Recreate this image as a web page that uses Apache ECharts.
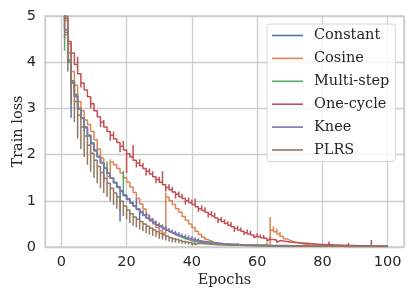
<!DOCTYPE html>
<html>
<head>
<meta charset="utf-8">
<script src="https://cdn.jsdelivr.net/npm/echarts@6/dist/echarts.min.js"></script>
<style>html,body{margin:0;padding:0;background:#fff}#c{width:415px;height:297px}</style>
</head>
<body>
<div id="c"></div>
<script>
// Epochs 1..100 (one step per epoch); each epoch has a level value and a spike extreme
const seriesNames = ['Constant', 'Cosine', 'Multi-step', 'One-cycle', 'Knee', 'PLRS'];
const xTicks = [0, 20, 40, 60, 80, 100];
const yTicks = [0, 1, 2, 3, 4, 5];

const constantLevel = [
  4.7, 4.05, 3.6, 3.3, 3.0, 2.8, 2.6, 2.42, 2.25, 2.1,
  1.96, 1.83, 1.71, 1.6, 1.49, 1.39, 1.29, 1.2, 1.11, 1.03,
  0.95, 0.88, 0.81, 0.74, 0.68, 0.62, 0.57, 0.52, 0.47, 0.43,
  0.39, 0.35, 0.32, 0.29, 0.26, 0.23, 0.21, 0.19, 0.17, 0.15,
  0.14, 0.12, 0.11, 0.1, 0.09, 0.085, 0.08, 0.075, 0.07, 0.065,
  0.06, 0.058, 0.055, 0.052, 0.05, 0.048, 0.046, 0.044, 0.042, 0.04,
  0.038, 0.036, 0.035, 0.034, 0.033, 0.032, 0.031, 0.03, 0.029, 0.028,
  0.027, 0.027, 0.026, 0.026, 0.025, 0.025, 0.024, 0.024, 0.023, 0.023,
  0.022, 0.022, 0.022, 0.021, 0.021, 0.021, 0.02, 0.02, 0.02, 0.02,
  0.019, 0.019, 0.019, 0.019, 0.018, 0.018, 0.018, 0.018, 0.018, 0.017
];
const constantSpike = [
  5.0, 4.3, 2.8, 3.45, 3.15, 2.95, 2.5, 2.55, 2.38, 2.2,
  2.06, 1.93, 1.4, 1.7, 1.58, 1.48, 1.38, 0.55, 1.2, 1.1,
  1.02, 0.95, 1.06, 0.6, 0.75, 0.69, 0.64, 0.58, 0.53, 0.49,
  0.45, 0.41, 0.37, 0.34, 0.31, 0.28, 0.26, 0.24, 0.22, 0.2,
  0.19, 0.16, 0.15, 0.14, 0.13, 0.12, 0.11, 0.1, 0.1, 0.09,
  0.1, 0.08, 0.1, 0.07, 0.09, 0.07, 0.06, 0.08, 0.06, 0.05,
  0.05, 0.05, 0.06, 0.045, 0.04, 0.04, 0.05, 0.04, 0.035, 0.035,
  0.035, 0.03, 0.03, 0.04, 0.03, 0.03, 0.03, 0.028, 0.03, 0.027,
  0.026, 0.026, 0.03, 0.025, 0.025, 0.025, 0.024, 0.024, 0.028, 0.023,
  0.023, 0.022, 0.022, 0.022, 0.022, 0.021, 0.021, 0.021, 0.021, 0.02
];

const cosineLevel = [
  4.9, 4.4, 3.8, 3.5, 3.15, 2.95, 2.75, 2.65, 2.5, 2.32,
  2.12, 1.92, 1.72, 1.52, 1.84, 1.78, 1.7, 1.6, 1.5, 1.4,
  1.3, 1.18, 1.05, 0.93, 0.82, 0.7, 0.6, 0.5, 0.42, 0.35,
  0.3, 1.08, 1.0, 0.92, 0.83, 0.75, 0.66, 0.58, 0.5, 0.42,
  0.34, 0.27, 0.21, 0.16, 0.12, 0.1, 0.08, 0.07, 0.06, 0.055,
  0.05, 0.048, 0.046, 0.044, 0.042, 0.04, 0.038, 0.036, 0.034, 0.032,
  0.03, 0.03, 0.03, 0.36, 0.33, 0.28, 0.23, 0.18, 0.15, 0.12,
  0.1, 0.085, 0.07, 0.06, 0.05, 0.045, 0.04, 0.035, 0.032, 0.03,
  0.028, 0.027, 0.026, 0.025, 0.024, 0.023, 0.022, 0.021, 0.02, 0.02,
  0.019, 0.019, 0.018, 0.018, 0.017, 0.017, 0.016, 0.016, 0.016, 0.015
];
const cosineSpike = [
  5.1, 4.6, 4.0, 3.6, 3.3, 3.05, 2.9, 2.78, 2.62, 2.45,
  2.25, 2.05, 1.85, 1.65, 1.9, 1.88, 1.8, 1.7, 1.6, 1.52,
  1.42, 1.3, 1.18, 1.06, 0.95, 0.83, 0.72, 0.62, 0.53, 0.45,
  0.38, 1.18, 1.1, 1.02, 0.93, 0.85, 0.76, 0.68, 0.6, 0.52,
  0.44, 0.36, 0.29, 0.23, 0.18, 0.14, 0.12, 0.1, 0.09, 0.08,
  0.07, 0.065, 0.06, 0.058, 0.055, 0.05, 0.05, 0.048, 0.045, 0.04,
  0.04, 0.04, 0.04, 0.65, 0.45, 0.4, 0.33, 0.27, 0.22, 0.18,
  0.14, 0.12, 0.1, 0.085, 0.07, 0.06, 0.055, 0.05, 0.045, 0.04,
  0.038, 0.036, 0.034, 0.032, 0.03, 0.03, 0.028, 0.027, 0.026, 0.025,
  0.025, 0.024, 0.023, 0.023, 0.022, 0.022, 0.021, 0.021, 0.02, 0.02
];

const multiStepLevel = [
  4.6, 4.0, 3.58, 3.28, 3.0, 2.8, 2.6, 2.42, 2.25, 2.1,
  1.96, 1.83, 1.71, 1.6, 1.5, 1.4, 1.31, 1.22, 1.13, 1.05,
  0.97, 0.9, 0.83, 0.76, 0.7, 0.64, 0.58, 0.53, 0.48, 0.44,
  0.39, 0.35, 0.31, 0.27, 0.24, 0.21, 0.18, 0.16, 0.14, 0.12,
  0.11, 0.1, 0.09, 0.08, 0.07, 0.065, 0.06, 0.055, 0.05, 0.045,
  0.04, 0.039, 0.038, 0.037, 0.036, 0.035, 0.034, 0.033, 0.032, 0.031,
  0.03, 0.029, 0.028, 0.027, 0.026, 0.025, 0.025, 0.024, 0.024, 0.023,
  0.023, 0.022, 0.022, 0.021, 0.021, 0.02, 0.02, 0.02, 0.019, 0.019,
  0.019, 0.018, 0.018, 0.018, 0.017, 0.017, 0.017, 0.016, 0.016, 0.016,
  0.016, 0.015, 0.015, 0.015, 0.015, 0.014, 0.014, 0.014, 0.014, 0.014
];
const multiStepSpike = [
  4.25, 4.15, 3.7, 3.4, 3.1, 2.9, 2.7, 2.52, 2.35, 2.2,
  2.05, 1.92, 1.8, 1.85, 1.6, 1.5, 1.4, 1.32, 1.65, 1.14,
  1.05, 0.98, 0.9, 0.84, 0.77, 0.71, 0.65, 0.6, 0.55, 0.5,
  0.45, 0.41, 0.37, 0.33, 0.3, 0.27, 0.24, 0.22, 0.2, 0.18,
  0.16, 0.15, 0.14, 0.12, 0.11, 0.15, 0.1, 0.09, 0.08, 0.075,
  0.07, 0.065, 0.06, 0.09, 0.055, 0.05, 0.05, 0.045, 0.07, 0.04,
  0.04, 0.035, 0.1, 0.035, 0.03, 0.03, 0.03, 0.05, 0.03, 0.025,
  0.025, 0.025, 0.03, 0.024, 0.024, 0.023, 0.023, 0.022, 0.022, 0.022,
  0.021, 0.021, 0.02, 0.02, 0.02, 0.02, 0.019, 0.019, 0.019, 0.019,
  0.018, 0.018, 0.018, 0.018, 0.017, 0.017, 0.017, 0.017, 0.017, 0.016
];

const oneCycleLevel = [
  4.95, 4.45, 4.2, 3.95, 3.75, 3.55, 3.4, 3.25, 3.1, 2.95,
  2.82, 2.7, 2.6, 2.5, 2.42, 2.34, 2.26, 2.18, 2.1, 2.02,
  1.95, 1.88, 1.82, 1.76, 1.7, 1.64, 1.58, 1.52, 1.46, 1.4,
  1.35, 1.29, 1.24, 1.19, 1.14, 1.09, 1.05, 1.0, 0.96, 0.92,
  0.87, 0.83, 0.79, 0.75, 0.71, 0.67, 0.63, 0.59, 0.55, 0.51,
  0.47, 0.44, 0.4, 0.37, 0.34, 0.31, 0.28, 0.26, 0.24, 0.22,
  0.2, 0.19, 0.17, 0.16, 0.15, 0.14, 0.13, 0.12, 0.11, 0.1,
  0.095, 0.09, 0.085, 0.08, 0.075, 0.07, 0.065, 0.06, 0.056, 0.052,
  0.05, 0.048, 0.045, 0.043, 0.04, 0.038, 0.036, 0.034, 0.032, 0.03,
  0.029, 0.028, 0.027, 0.026, 0.025, 0.024, 0.023, 0.022, 0.021, 0.02
];
const oneCycleSpike = [
  5.2, 4.6, 4.1, 4.05, 4.12, 3.45, 3.55, 3.35, 3.0, 3.1,
  2.95, 2.6, 2.75, 2.62, 2.3, 2.5, 2.38, 2.05, 2.3, 1.6,
  2.05, 2.2, 1.72, 1.9, 1.82, 1.55, 1.7, 1.64, 1.38, 1.52,
  1.64, 1.2, 1.36, 1.3, 1.05, 1.2, 1.15, 0.92, 1.07, 1.03,
  1.05, 0.76, 0.9, 0.86, 0.64, 0.78, 0.74, 0.52, 0.65, 0.6,
  0.56, 0.54, 0.33, 0.46, 0.42, 0.26, 0.38, 0.35, 0.2, 0.3,
  0.27, 0.26, 0.13, 0.22, 0.2, 0.1, 0.18, 0.17, 0.08, 0.15,
  0.14, 0.13, 0.06, 0.12, 0.11, 0.05, 0.1, 0.09, 0.04, 0.085,
  0.08, 0.12, 0.04, 0.07, 0.065, 0.03, 0.06, 0.09, 0.03, 0.055,
  0.05, 0.05, 0.02, 0.045, 0.15, 0.02, 0.04, 0.04, 0.015, 0.035
];

const kneeLevel = [
  4.65, 4.0, 3.55, 3.25, 2.98, 2.78, 2.58, 2.4, 2.23, 2.08,
  1.95, 1.82, 1.7, 1.59, 1.49, 1.39, 1.3, 1.21, 1.12, 1.04,
  0.96, 0.89, 0.82, 0.75, 0.69, 0.63, 0.58, 0.53, 0.48, 0.44,
  0.4, 0.36, 0.33, 0.3, 0.27, 0.24, 0.22, 0.2, 0.18, 0.16,
  0.14, 0.13, 0.12, 0.11, 0.1, 0.09, 0.08, 0.075, 0.07, 0.065,
  0.06, 0.055, 0.05, 0.048, 0.045, 0.042, 0.04, 0.038, 0.036, 0.034,
  0.032, 0.031, 0.03, 0.029, 0.028, 0.027, 0.026, 0.025, 0.025, 0.024,
  0.023, 0.023, 0.022, 0.022, 0.021, 0.021, 0.02, 0.02, 0.019, 0.019,
  0.019, 0.018, 0.018, 0.018, 0.017, 0.017, 0.017, 0.016, 0.016, 0.016,
  0.016, 0.015, 0.015, 0.015, 0.015, 0.015, 0.015, 0.015, 0.015, 0.015
];
const kneeSpike = [
  4.95, 4.25, 3.75, 3.45, 3.2, 2.95, 2.75, 2.56, 2.38, 2.22,
  2.08, 1.95, 1.83, 1.72, 1.61, 1.51, 1.42, 1.33, 1.24, 1.16,
  1.07, 1.0, 0.93, 0.86, 0.8, 0.74, 0.68, 0.63, 0.58, 0.53,
  0.49, 0.45, 0.41, 0.38, 0.35, 0.32, 0.29, 0.27, 0.25, 0.23,
  0.21, 0.19, 0.17, 0.16, 0.15, 0.14, 0.13, 0.12, 0.11, 0.1,
  0.1, 0.09, 0.085, 0.08, 0.075, 0.07, 0.065, 0.06, 0.058, 0.055,
  0.052, 0.05, 0.048, 0.046, 0.044, 0.042, 0.04, 0.038, 0.036, 0.034,
  0.032, 0.031, 0.03, 0.03, 0.029, 0.028, 0.028, 0.027, 0.026, 0.026,
  0.025, 0.025, 0.024, 0.024, 0.023, 0.023, 0.023, 0.022, 0.022, 0.022,
  0.021, 0.021, 0.021, 0.02, 0.02, 0.02, 0.02, 0.02, 0.02, 0.02
];

const plrsLevel = [
  5.0, 4.2, 3.55, 3.15, 2.85, 2.6, 2.4, 2.2, 2.03, 1.88,
  1.74, 1.61, 1.49, 1.38, 1.27, 1.17, 1.08, 0.99, 0.89, 0.8,
  0.72, 0.65, 0.6, 0.55, 0.5, 0.45, 0.41, 0.37, 0.33, 0.29,
  0.26, 0.23, 0.2, 0.18, 0.16, 0.14, 0.12, 0.11, 0.1, 0.09,
  0.08, 0.075, 0.07, 0.065, 0.06, 0.055, 0.05, 0.048, 0.046, 0.044,
  0.042, 0.04, 0.038, 0.036, 0.034, 0.032, 0.03, 0.029, 0.028, 0.027,
  0.026, 0.025, 0.024, 0.023, 0.022, 0.021, 0.02, 0.02, 0.019, 0.019,
  0.018, 0.018, 0.017, 0.017, 0.016, 0.016, 0.016, 0.015, 0.015, 0.015,
  0.015, 0.014, 0.014, 0.014, 0.014, 0.013, 0.013, 0.013, 0.013, 0.013,
  0.012, 0.012, 0.012, 0.012, 0.012, 0.012, 0.011, 0.011, 0.011, 0.011
];
const plrsSpike = [
  4.5, 3.8, 3.1, 2.7, 2.35, 2.12, 1.95, 1.78, 1.63, 1.5,
  1.38, 1.27, 1.17, 1.08, 0.99, 0.91, 0.83, 0.76, 0.67, 0.6,
  0.52, 0.46, 0.42, 0.38, 0.34, 0.3, 0.27, 0.24, 0.21, 0.18,
  0.16, 0.14, 0.12, 0.1, 0.09, 0.08, 0.07, 0.06, 0.055, 0.05,
  0.045, 0.04, 0.035, 0.032, 0.03, 0.028, 0.025, 0.024, 0.022, 0.02,
  0.02, 0.018, 0.017, 0.016, 0.015, 0.014, 0.014, 0.013, 0.013, 0.012,
  0.012, 0.011, 0.011, 0.011, 0.01, 0.01, 0.01, 0.01, 0.01, 0.01,
  0.009, 0.009, 0.009, 0.009, 0.009, 0.009, 0.008, 0.008, 0.008, 0.008,
  0.008, 0.008, 0.008, 0.008, 0.007, 0.007, 0.007, 0.007, 0.007, 0.007,
  0.007, 0.007, 0.007, 0.007, 0.006, 0.006, 0.006, 0.006, 0.006, 0.006
];

const firstEpoch = 1;
const levels = [constantLevel, cosineLevel, multiStepLevel, oneCycleLevel, kneeLevel, plrsLevel];
const spikes = [constantSpike, cosineSpike, multiStepSpike, oneCycleSpike, kneeSpike, plrsSpike];
const colors = ['#4C72B0', '#DD8452', '#55A868', '#C44E52', '#8172B3', '#937860'];

function buildData(level, spike) {
  const out = [];
  for (let i = 0; i < level.length; i++) {
    const ep = firstEpoch + i;
    out.push([ep, spike[i]]);
    out.push([ep, level[i]]);
  }
  return out;
}

const chart = echarts.init(document.getElementById('c'), null, { renderer: 'canvas' });
const tickFont = { fontFamily: 'DejaVu Sans', fontSize: 14.5, color: '#262626' };
chart.setOption({
  animation: false,
  backgroundColor: '#ffffff',
  color: colors,
  grid: { left: 45, right: 11, top: 16, bottom: 50, containLabel: false, outerBoundsMode: 'none',
          show: true, borderColor: '#cccccc', borderWidth: 1.3, backgroundColor: 'transparent' },
  xAxis: {
    type: 'value', min: -5, max: 105,
    name: 'Epochs', nameLocation: 'middle', nameGap: 26, nameMoveOverlap: false,
    nameTextStyle: { fontFamily: 'DejaVu Serif', fontSize: 14.5, color: '#262626' },
    axisLine: { show: false }, axisTick: { show: false },
    axisLabel: Object.assign({ margin: 8, formatter: v => (xTicks.indexOf(v) >= 0 ? String(v) : '') }, tickFont),
    splitLine: { show: true, lineStyle: { color: '#cccccc', width: 1.3 } }
  },
  yAxis: {
    type: 'value', min: 0, max: 5, interval: 1,
    name: 'Train loss', nameLocation: 'middle', nameGap: 19.5, nameRotate: 90, nameMoveOverlap: false,
    nameTextStyle: { fontFamily: 'DejaVu Serif', fontSize: 14.5, color: '#262626' },
    axisLine: { show: false }, axisTick: { show: false },
    axisLabel: Object.assign({ margin: 9, formatter: v => (yTicks.indexOf(v) >= 0 ? String(v) : '') }, tickFont),
    splitLine: { show: true, lineStyle: { color: '#cccccc', width: 1.3 } }
  },
  legend: {
    orient: 'vertical', left: 267, top: 24,
    padding: [4, 6, 4, 5],
    itemWidth: 31, itemHeight: 14, itemGap: 7.9,
    backgroundColor: 'rgba(255,255,255,0.8)', borderColor: '#d6d6d6', borderWidth: 1, borderRadius: 3,
    textStyle: { fontFamily: 'DejaVu Serif', fontSize: 14.5, color: '#262626', lineHeight: 14, padding: [0, 0, 0, 6] },
    data: seriesNames.map(n => ({ name: n, icon: 'path://M0,0 L31,0 L31,1.6 L0,1.6 Z' }))
  },
  series: seriesNames.map((n, k) => ({
    name: n, type: 'line', step: 'end', showSymbol: false, symbol: 'none',
    clip: true,
    lineStyle: { width: 1.5, color: colors[k] },
    data: buildData(levels[k], spikes[k])
  }))
});
</script>
</body>
</html>
